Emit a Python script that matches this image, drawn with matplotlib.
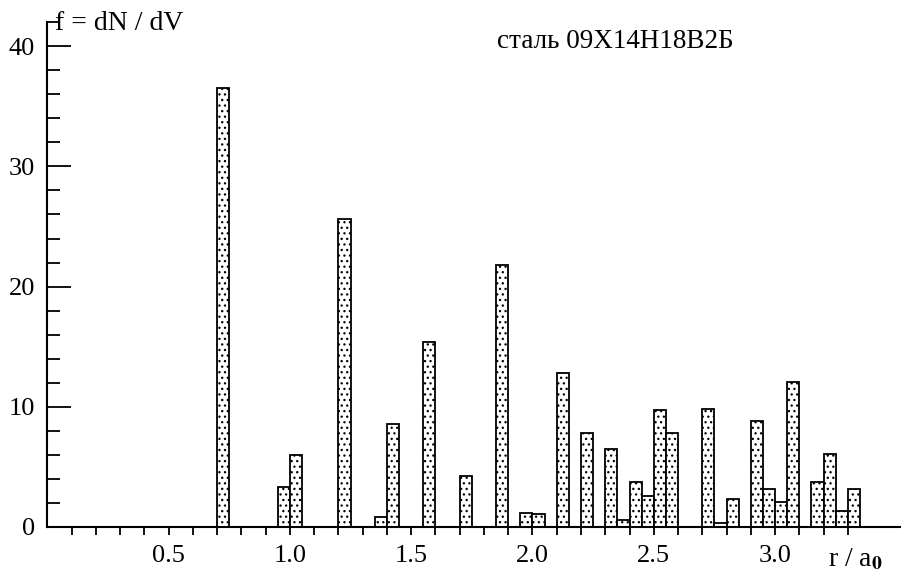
import matplotlib
matplotlib.use('Agg')
import matplotlib.pyplot as plt
from matplotlib.ticker import MultipleLocator

plt.rcParams['font.family'] = ['Liberation Serif', 'DejaVu Serif']
plt.rcParams['mathtext.fontset'] = 'stix'
plt.rcParams['hatch.linewidth'] = 0.9
plt.rcParams['hatch.color'] = '#444444'

# bin left edges (r / a0) and heights f = dN/dV, bin width 0.05
r_left = [0.70, 0.95, 1.00, 1.20, 1.35, 1.40, 1.55, 1.70, 1.85, 1.95,
          2.00, 2.10, 2.20, 2.30, 2.35, 2.40, 2.45, 2.50, 2.55, 2.70,
          2.75, 2.80, 2.90, 2.95, 3.00, 3.05, 3.15, 3.20, 3.25, 3.30]
f_vals = [36.5, 3.35, 6.0, 25.6, 0.85, 8.6, 15.4, 4.25, 21.8, 1.2,
          1.1, 12.8, 7.8, 6.5, 0.55, 3.75, 2.6, 9.75, 7.85, 9.85,
          0.3, 2.35, 8.85, 3.2, 2.1, 12.1, 3.75, 6.1, 1.35, 3.2]
bin_w = 0.05
x_labels = ['0.5', '1.0', '1.5', '2.0', '2.5', '3.0']
x_label_pos = [0.5, 1.0, 1.5, 2.0, 2.5, 3.0]
y_labels = ['0', '10', '20', '30', '40']
y_label_pos = [0, 10, 20, 30, 40]

fig = plt.figure(figsize=(9.01, 5.73), dpi=100)
ax = fig.add_axes([0.0525, 0.0803, 0.9464, 0.881])

ax.bar(r_left, f_vals, width=bin_w, align='edge', color='white',
       edgecolor='black', linewidth=1.3, hatch='...')

ax.set_xlim(0, 3.515)
ax.set_ylim(0, 42)
for s in ['top', 'right']:
    ax.spines[s].set_visible(False)
ax.spines['left'].set_linewidth(1.5)
ax.spines['bottom'].set_linewidth(1.5)

ax.set_xticks(x_label_pos)
ax.set_xticklabels(x_labels)
ax.set_xticks([t / 10 for t in range(1, 34)], minor=True)
ax.tick_params(axis='x', which='both', direction='out', length=6, width=1.3,
               labelsize=19, pad=7)

ax.set_yticks(y_label_pos)
ax.set_yticklabels(y_labels)
ax.yaxis.set_minor_locator(MultipleLocator(2))
ax.tick_params(axis='y', which='major', direction='in', length=17, width=1.3,
               labelsize=19, pad=9)
ax.tick_params(axis='y', which='minor', direction='in', length=9, width=1.3)

fig.text(55 / 901, 1 - 30 / 573, 'f = dN / dV', fontsize=20,
         ha='left', va='baseline')
fig.text(497 / 901, 1 - 48 / 573, 'сталь 09Х14Н18В2Б', fontsize=19.5,
         ha='left', va='baseline')
ax.text(3.33, -2.7, r'r / a$_\mathbf{0}$', fontsize=20,
        ha='center', va='center')

fig.savefig('out.png', dpi=100)
